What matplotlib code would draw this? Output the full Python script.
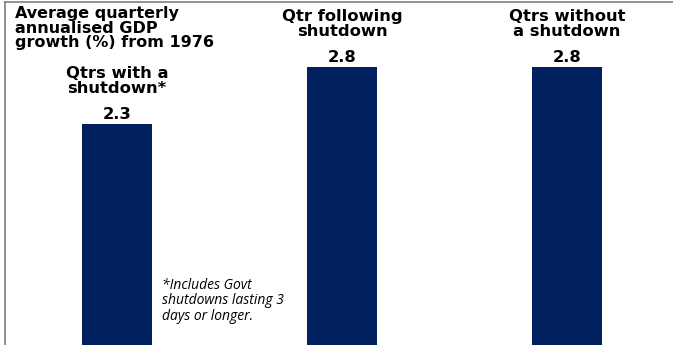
import matplotlib.pyplot as plt

categories = ['Qtrs with a\nshutdown*', 'Qtr following\nshutdown', 'Qtrs without\na shutdown']
values = [2.3, 2.8, 2.8]

W, H = 673, 345
fig = plt.figure(figsize=(W / 100, H / 100), dpi=100)
ax = fig.add_axes([5 / W, -0.001, 1 - 5 / W + 0.002, (H - 2) / H])

x = list(range(len(values)))
ax.bar(x, values, width=0.312, color='#002060')
ax.set_xlim(-0.499, 2.477)
ax.set_ylim(0.36, 3.37)
ax.set_xticks([])
ax.set_yticks([])
for s in ['right', 'bottom']:
    ax.spines[s].set_visible(False)
for s in ['left', 'top']:
    ax.spines[s].set_color('#7f7f7f')
    ax.spines[s].set_linewidth(1.2)

font = ['DejaVu Sans']
for xi, v, c in zip(x, values, categories):
    ax.annotate(f'{v:.1f}', (xi, v), xytext=(0, 3.5), textcoords='offset points',
                ha='center', va='baseline', fontsize=11.8, fontweight='bold', family=font)
    ax.annotate(c, (xi, v), xytext=(0, 22.5), textcoords='offset points',
                ha='center', va='baseline', fontsize=11.8, fontweight='bold', family=font,
                linespacing=1.02)

fig.text(15 / W, 1 - 6 / H, 'Average quarterly\nannualised GDP\ngrowth (%) from 1976',
         ha='left', va='top', fontsize=11.5, fontweight='bold', family=font, linespacing=0.97)

fig.text(162 / W, 1 - 278 / H, '*Includes Govt\nshutdowns lasting 3\ndays or longer.',
         ha='left', va='top', fontsize=10, style='italic', family=['Open Sans', 'DejaVu Sans'],
         linespacing=1.03)

fig.savefig('out.png', dpi=100)
